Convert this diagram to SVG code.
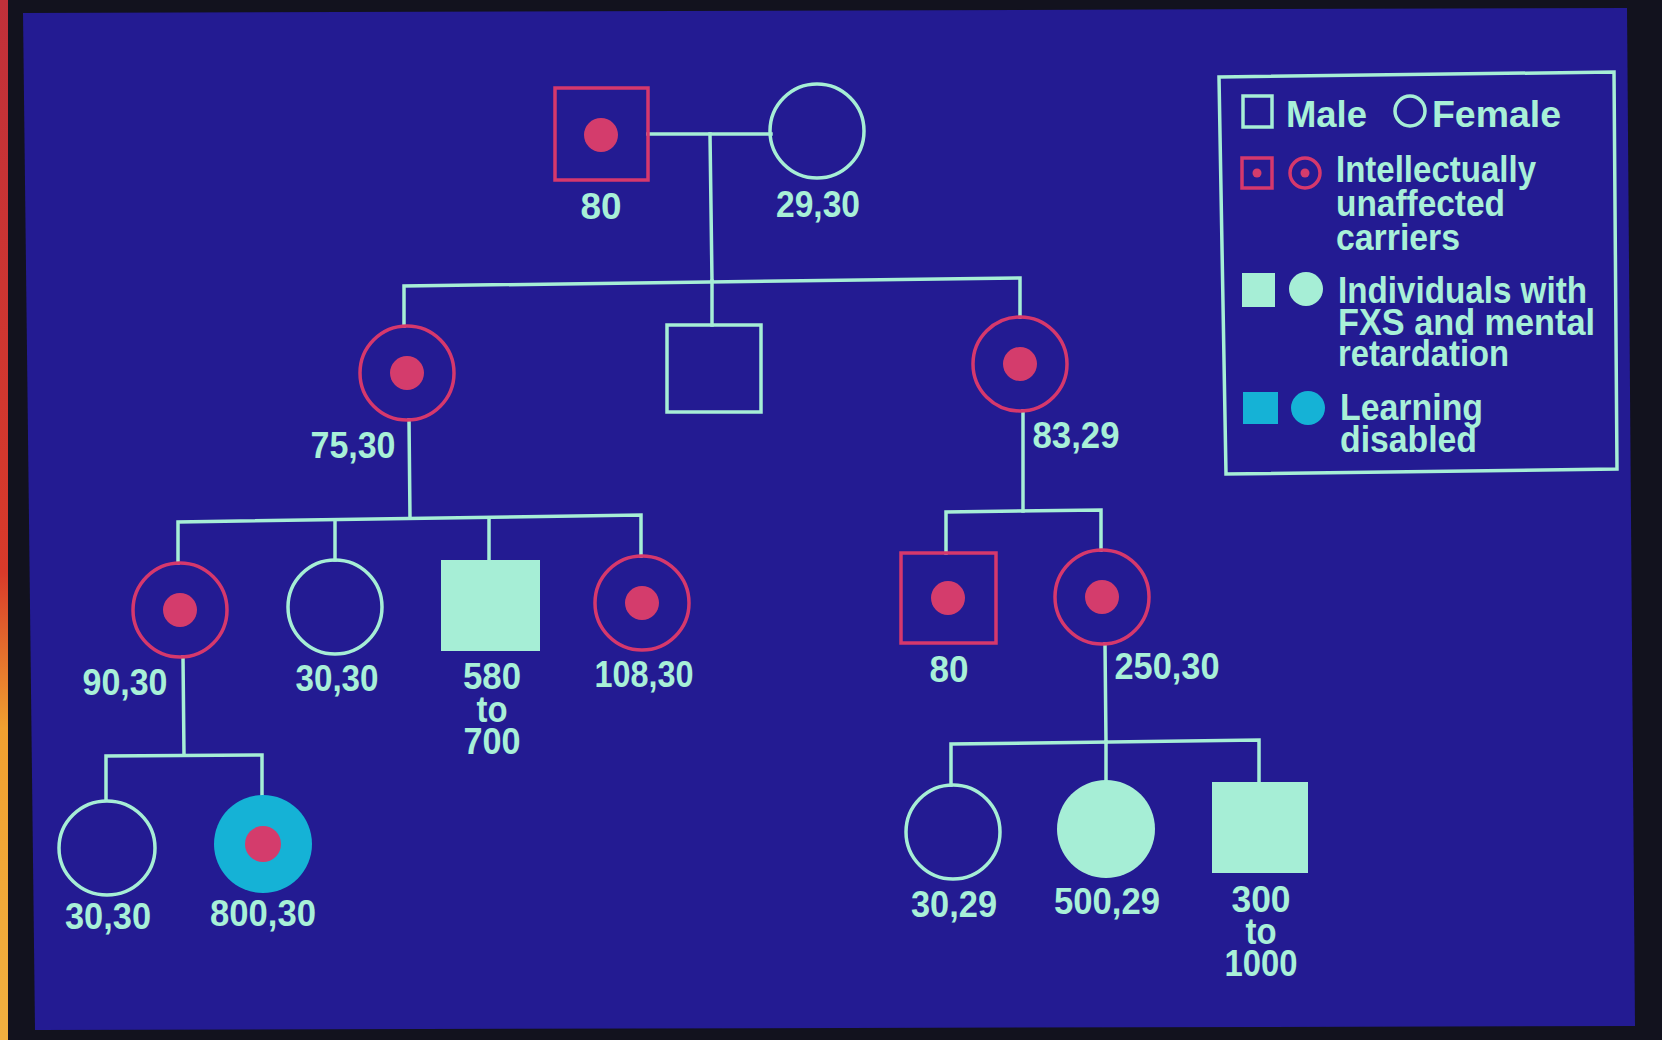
<svg xmlns="http://www.w3.org/2000/svg" width="1662" height="1040" viewBox="0 0 1662 1040">
<defs>
<linearGradient id="edge" x1="0" y1="0" x2="0" y2="1">
<stop offset="0" stop-color="#c0303a"/>
<stop offset="0.55" stop-color="#d83a2a"/>
<stop offset="0.7" stop-color="#f0a030"/>
<stop offset="1" stop-color="#f0b040"/>
</linearGradient>
<style>
.ln{stroke:#a6eed6;stroke-width:3.5;fill:none;stroke-linecap:square}
.o{stroke:#a6eed6;stroke-width:3.5;fill:none}
.c{stroke:#d6386c;stroke-width:3.5;fill:none}
.dot{fill:#d43c6c}
.f{fill:#a6eed6}
.ld{fill:#15b2d6}
text{font-family:"Liberation Sans",Arial,sans-serif;font-weight:bold;fill:#a8f0d8;font-size:37px}
.m{text-anchor:middle}
.lg{font-size:36px}
</style>
</defs>
<rect x="0" y="0" width="1662" height="1040" fill="#12121e"/>
<rect x="0" y="0" width="8" height="1040" fill="url(#edge)"/>
<polygon points="23,13 1627,8 1635,1026 35,1030" fill="#231b92"/>

<g id="connectors">
<line class="ln" x1="648" y1="134" x2="771" y2="134"/>
<line class="ln" x1="710" y1="134" x2="712" y2="281"/>
<polyline class="ln" points="404,326 404,286 1020,278 1020,317"/>
<line class="ln" x1="712" y1="281" x2="712" y2="325"/>
<line class="ln" x1="409" y1="420" x2="410" y2="518"/>
<polyline class="ln" points="178,563 178,522 641,515 641,556"/>
<line class="ln" x1="335" y1="521" x2="335" y2="560"/>
<line class="ln" x1="489" y1="518" x2="489" y2="560"/>
<line class="ln" x1="183" y1="657" x2="184" y2="755"/>
<polyline class="ln" points="106,800 106,756 262,755 262,796"/>
<line class="ln" x1="1023" y1="411" x2="1023" y2="511"/>
<polyline class="ln" points="946,553 946,512 1101,510 1101,550"/>
<line class="ln" x1="1105" y1="644" x2="1106" y2="742"/>
<polyline class="ln" points="951,785 951,744 1259,740 1259,782"/>
<line class="ln" x1="1106" y1="742" x2="1106" y2="781"/>
</g>

<g id="n-i1"><rect class="c" x="555" y="88" width="93" height="92"/><circle class="dot" cx="601" cy="135" r="17"/><text class="m" x="601" y="219" textLength="41" lengthAdjust="spacingAndGlyphs">80</text></g>
<g id="n-i2"><circle class="o" cx="817" cy="131" r="47"/><text class="m" x="818" y="217" textLength="84" lengthAdjust="spacingAndGlyphs">29,30</text></g>

<g id="n-ii1"><circle class="c" cx="407" cy="373" r="47"/><circle class="dot" cx="407" cy="373" r="17"/><text class="m" x="353" y="458" textLength="85" lengthAdjust="spacingAndGlyphs">75,30</text></g>
<g id="n-ii2"><rect class="o" x="667" y="325" width="94" height="87"/></g>
<g id="n-ii3"><circle class="c" cx="1020" cy="364" r="47"/><circle class="dot" cx="1020" cy="364" r="17"/><text class="m" x="1076" y="448" textLength="87" lengthAdjust="spacingAndGlyphs">83,29</text></g>

<g id="n-iii1"><circle class="c" cx="180" cy="610" r="47"/><circle class="dot" cx="180" cy="610" r="17"/><text class="m" x="125" y="695" textLength="85" lengthAdjust="spacingAndGlyphs">90,30</text></g>
<g id="n-iii2"><circle class="o" cx="335" cy="607" r="47"/><text class="m" x="337" y="691" textLength="83" lengthAdjust="spacingAndGlyphs">30,30</text></g>
<g id="n-iii3"><rect class="f" x="441" y="560" width="99" height="91"/><text class="m" x="492" y="689" textLength="58" lengthAdjust="spacingAndGlyphs">580</text><text class="m" x="492" y="722" textLength="31" lengthAdjust="spacingAndGlyphs">to</text><text class="m" x="492" y="754" textLength="57" lengthAdjust="spacingAndGlyphs">700</text></g>
<g id="n-iii4"><circle class="c" cx="642" cy="603" r="47"/><circle class="dot" cx="642" cy="603" r="17"/><text class="m" x="644" y="687" textLength="99" lengthAdjust="spacingAndGlyphs">108,30</text></g>
<g id="n-iii5"><rect class="c" x="901" y="553" width="95" height="90"/><circle class="dot" cx="948" cy="598" r="17"/><text class="m" x="949" y="682" textLength="39" lengthAdjust="spacingAndGlyphs">80</text></g>
<g id="n-iii6"><circle class="c" cx="1102" cy="597" r="47"/><circle class="dot" cx="1102" cy="597" r="17"/><text class="m" x="1167" y="679" textLength="105" lengthAdjust="spacingAndGlyphs">250,30</text></g>

<g id="n-iv1"><ellipse class="o" cx="107" cy="848" rx="48" ry="47"/><text class="m" x="108" y="929" textLength="86" lengthAdjust="spacingAndGlyphs">30,30</text></g>
<g id="n-iv2"><circle class="ld" cx="263" cy="844" r="49"/><circle class="dot" cx="263" cy="844" r="18"/><text class="m" x="263" y="926" textLength="106" lengthAdjust="spacingAndGlyphs">800,30</text></g>
<g id="n-iv3"><circle class="o" cx="953" cy="832" r="47"/><text class="m" x="954" y="917" textLength="86" lengthAdjust="spacingAndGlyphs">30,29</text></g>
<g id="n-iv4"><circle class="f" cx="1106" cy="829" r="49"/><text class="m" x="1107" y="914" textLength="106" lengthAdjust="spacingAndGlyphs">500,29</text></g>
<g id="n-iv5"><rect class="f" x="1212" y="782" width="96" height="91"/><text class="m" x="1261" y="912" textLength="59" lengthAdjust="spacingAndGlyphs">300</text><text class="m" x="1261" y="944" textLength="31" lengthAdjust="spacingAndGlyphs">to</text><text class="m" x="1261" y="976" textLength="73" lengthAdjust="spacingAndGlyphs">1000</text></g>

<g id="legend">
<polygon class="o" points="1219,77 1614,72 1617,469 1226,474"/>
<rect class="o" x="1243" y="96" width="29" height="31"/>
<text class="lg" x="1286" y="127" textLength="81" lengthAdjust="spacingAndGlyphs">Male</text>
<circle class="o" cx="1410" cy="111" r="15"/>
<text class="lg" x="1432" y="127" textLength="129" lengthAdjust="spacingAndGlyphs">Female</text>
<rect class="c" x="1242" y="158" width="30" height="30"/>
<circle class="dot" cx="1257" cy="173" r="4.5"/>
<circle class="c" cx="1305" cy="173" r="15"/>
<circle class="dot" cx="1305" cy="173" r="4.5"/>
<text class="lg" x="1336" y="182" textLength="200" lengthAdjust="spacingAndGlyphs">Intellectually</text>
<text class="lg" x="1336" y="216" textLength="169" lengthAdjust="spacingAndGlyphs">unaffected</text>
<text class="lg" x="1336" y="250" textLength="124" lengthAdjust="spacingAndGlyphs">carriers</text>
<rect class="f" x="1242" y="273" width="33" height="34"/>
<circle class="f" cx="1306" cy="289" r="17"/>
<text class="lg" x="1338" y="303" textLength="249" lengthAdjust="spacingAndGlyphs">Individuals with</text>
<text class="lg" x="1338" y="335" textLength="257" lengthAdjust="spacingAndGlyphs">FXS and mental</text>
<text class="lg" x="1338" y="366" textLength="171" lengthAdjust="spacingAndGlyphs">retardation</text>
<rect class="ld" x="1243" y="392" width="35" height="32"/>
<circle class="ld" cx="1308" cy="408" r="17"/>
<text class="lg" x="1340" y="420" textLength="143" lengthAdjust="spacingAndGlyphs">Learning</text>
<text class="lg" x="1340" y="452" textLength="137" lengthAdjust="spacingAndGlyphs">disabled</text>
</g>
</svg>
